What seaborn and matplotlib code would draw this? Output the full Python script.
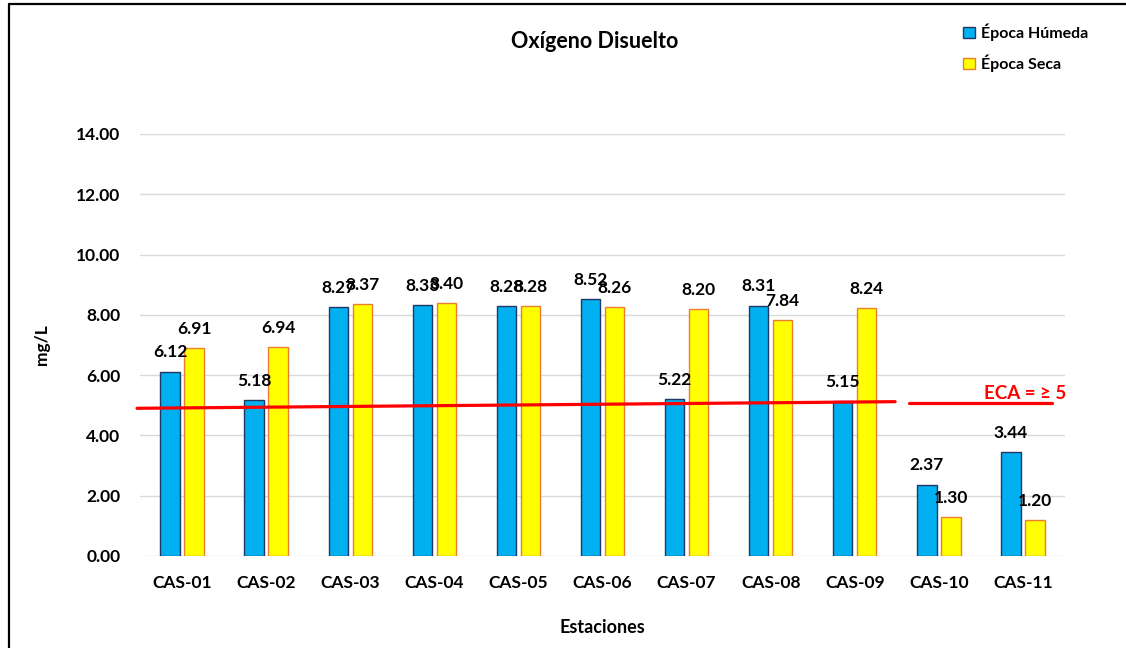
import matplotlib
matplotlib.use("Agg")
import matplotlib.pyplot as plt
from matplotlib.lines import Line2D
from matplotlib.patches import Patch
import seaborn as sns
import pandas as pd

stations = ["CAS-01", "CAS-02", "CAS-03", "CAS-04", "CAS-05", "CAS-06",
            "CAS-07", "CAS-08", "CAS-09", "CAS-10", "CAS-11"]
humeda = [6.12, 5.18, 8.27, 8.33, 8.28, 8.52, 5.22, 8.31, 5.15, 2.37, 3.44]
seca = [6.91, 6.94, 8.37, 8.40, 8.28, 8.26, 8.20, 7.84, 8.24, 1.30, 1.20]
series = ["Época Húmeda", "Época Seca"]
yticks = [0, 2, 4, 6, 8, 10, 12, 14]
eca_seg1_x = [-0.535, 8.48]
eca_seg1_y = [4.90, 5.12]
eca_seg2_x = [8.64, 10.34]
eca_seg2_y = [5.06, 5.06]
eca_label = "ECA = ≥ 5"

df = pd.DataFrame({
    "Estación": stations * 2,
    "valor": humeda + seca,
    "serie": [series[0]] * len(stations) + [series[1]] * len(stations),
})

sns.set_theme(style="white")
plt.rcParams["font.family"] = ["Lato", "DejaVu Sans"]
plt.rcParams["text.color"] = "black"
plt.rcParams["axes.labelcolor"] = "black"
plt.rcParams["xtick.color"] = "black"
plt.rcParams["ytick.color"] = "black"

fig = plt.figure(figsize=(11.26, 6.48), dpi=100)
ax = fig.add_axes([140 / 1126, 1 - 556 / 648, 925 / 1126, (556 - 134) / 648])

colors = {series[0]: "#00B0F0", series[1]: "#FFFF00"}
edges = {series[0]: "#1F3864", series[1]: "#ED7D31"}

sns.barplot(data=df, x="Estación", y="valor", hue="serie", order=stations,
            hue_order=series, palette=colors, saturation=1, width=0.57, gap=0.19,
            linewidth=1.0, ax=ax, legend=False)

for cont, s in zip(ax.containers, series):
    for bar in cont:
        bar.set_edgecolor(edges[s])
    ax.bar_label(cont, fmt="%.2f", padding=8, fontsize=12.5,
                 fontweight="bold", color="black")

ax.set_xlim(-0.5, 10.5)
ax.set_ylim(0, 14)
ax.set_yticks(yticks)
ax.set_yticklabels([f"{v:.2f}" for v in yticks])
ax.yaxis.grid(True, color="#D9D9D9", linewidth=1)
ax.xaxis.grid(False)
ax.set_axisbelow(True)
for sp in ax.spines.values():
    sp.set_visible(False)
ax.tick_params(axis="y", length=0, pad=14, labelsize=12.5)
ax.tick_params(axis="x", length=0, pad=14, labelsize=12.5)
for t in ax.get_xticklabels() + ax.get_yticklabels():
    t.set_fontweight("bold")

ax.set_xlabel("Estaciones", fontsize=13, fontweight="bold", labelpad=20)
ax.set_ylabel("mg/L", fontsize=12.5, fontweight="bold")
ax.yaxis.set_label_coords(-0.097, 0.5)

ax.plot(eca_seg1_x, eca_seg1_y, color="#FF0000", lw=2.3, clip_on=False, zorder=5)
ax.plot(eca_seg2_x, eca_seg2_y, color="#FF0000", lw=2.3, clip_on=False, zorder=5)
ax.text(10.03, 5.38, eca_label, color="#FF0000", fontsize=13.5, fontweight="bold",
        ha="center", va="center", clip_on=False, zorder=6)

fig.text(595 / 1126, 1 - 42 / 648, "Oxígeno Disuelto", fontsize=15.5,
         fontweight="bold", ha="center", va="center")

handles = [Patch(facecolor=colors[s], edgecolor=edges[s], linewidth=1) for s in series]
fig.legend(handles, series, loc="upper left", bbox_to_anchor=(949 / 1126, 1 - 9 / 648),
           frameon=False, prop={"weight": "bold", "size": 11.5},
           handlelength=0.7, handleheight=0.7, handletextpad=0.4, labelspacing=0.85)

fig.add_artist(Line2D([9 / 1126, 9 / 1126], [0, 1 - 4 / 648], color="black", lw=1.6,
                      transform=fig.transFigure))
fig.add_artist(Line2D([9 / 1126, 1], [1 - 4 / 648, 1 - 4 / 648], color="black", lw=1.6,
                      transform=fig.transFigure))

fig.savefig("out.png", dpi=100, facecolor="white")
